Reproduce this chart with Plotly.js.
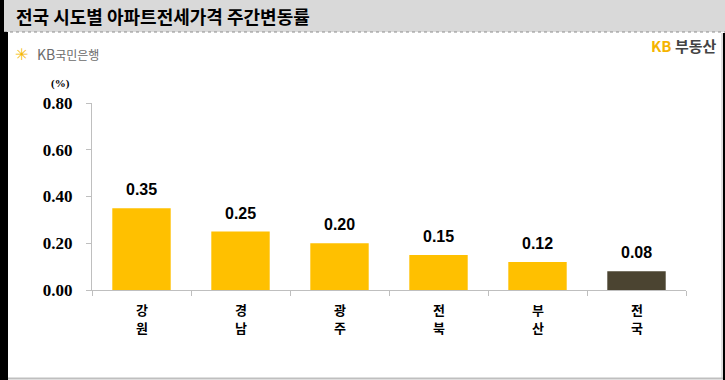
<!DOCTYPE html>
<html>
<head>
<meta charset="utf-8">
<script src="https://cdn.plot.ly/plotly-3.0.1.min.js"></script>
<style>
html,body{margin:0;padding:0;background:#fff;}
#chart{width:725px;height:380px;}
</style>
</head>
<body>
<div id="chart"></div>
<script>
const categories = ['강원', '경남', '광주', '전북', '부산', '전국'];
const values = [0.35, 0.25, 0.20, 0.15, 0.12, 0.08];
const barColors = ['#FFC000', '#FFC000', '#FFC000', '#FFC000', '#FFC000', '#4B4431'];
const yTickVals = [0, 0.2, 0.4, 0.6, 0.8];
const yTickText = ['0.00', '0.20', '0.40', '0.60', '0.80'];
const titleText = '전국 시도별 아파트전세가격 주간변동률';

// plot area geometry in pixels
const L = 92, R = 686, T = 103, B = 290;
const px = x => (x - L) / (R - L);
const py = y => (B - y) / (B - T);

const korFont = '"Noto Sans CJK KR", "Noto Sans", sans-serif';

const trace = {
  type: 'bar',
  x: categories,
  y: values,
  marker: {color: barColors, line: {width: 0}},
  width: 0.59,
  hoverinfo: 'skip'
};

const annotations = categories.map((c, i) => ({
  x: c, y: values[i], xref: 'x', yref: 'y',
  text: values[i].toFixed(2),
  showarrow: false, yanchor: 'bottom', yshift: 8,
  font: {family: '"Liberation Sans", Arial, sans-serif', size: 16, color: '#000', weight: 'bold'}
}));

// vertical (stacked) category labels, one glyph per line
categories.forEach(c => {
  c.split('').forEach((ch, j) => {
    annotations.push({
      x: c, xref: 'x', yref: 'paper', y: py(309 + j * 18),
      text: ch, showarrow: false, xanchor: 'center', yanchor: 'middle', borderpad: 0,
      font: {family: korFont, size: 13, color: '#000', weight: 'bold'}
    });
  });
});

annotations.push(
  {xref: 'paper', yref: 'paper', x: px(14), y: py(16), xanchor: 'left', yanchor: 'middle',
   text: titleText, showarrow: false,
   font: {family: korFont, size: 18, color: '#000', weight: 'bold'}},
  {xref: 'paper', yref: 'paper', x: px(60), y: py(83), xanchor: 'center', yanchor: 'middle',
   text: '(%)', showarrow: false,
   font: {family: '"Liberation Serif", serif', size: 11, color: '#000', weight: 'bold'}},
  {xref: 'paper', yref: 'paper', x: px(13), y: py(54), xanchor: 'left', yanchor: 'middle',
   text: '✳', showarrow: false,
   font: {family: '"DejaVu Sans", sans-serif', size: 16, color: '#F5B800'}},
  {xref: 'paper', yref: 'paper', x: px(35), y: py(54), xanchor: 'left', yanchor: 'middle',
   text: 'KB<span style="font-size:12px">국민은행</span>', showarrow: false,
   font: {family: korFont, size: 14, color: '#6b6b6b'}},
  {xref: 'paper', yref: 'paper', x: px(719), y: py(46), xanchor: 'right', yanchor: 'middle',
   text: '<span style="color:#F5B400">KB</span> 부동산', showarrow: false,
   font: {family: korFont, size: 15, color: '#444444', weight: 'bold'}}
);

const shapes = [
  // title bar
  {type: 'rect', xref: 'paper', yref: 'paper', x0: px(0), x1: px(725), y0: py(0), y1: py(32),
   fillcolor: '#D9D9D9', line: {width: 0}, layer: 'below'},
  {type: 'line', xref: 'paper', yref: 'paper', x0: px(4), x1: px(725), y0: py(32), y1: py(32),
   line: {color: '#8c8c8c', width: 1, dash: 'dot'}},
  // left black strip
  {type: 'rect', xref: 'paper', yref: 'paper', x0: px(0), x1: px(4), y0: py(0), y1: py(32),
   fillcolor: '#000', line: {width: 0}},
  {type: 'rect', xref: 'paper', yref: 'paper', x0: px(0), x1: px(8), y0: py(32), y1: py(380),
   fillcolor: '#000', line: {width: 0}},
  // right border
  {type: 'line', xref: 'paper', yref: 'paper', x0: px(722), x1: px(722), y0: py(33), y1: py(379),
   line: {color: '#bfbfbf', width: 1}},
  {type: 'rect', xref: 'paper', yref: 'paper', x0: px(723), x1: px(725), y0: py(33), y1: py(380),
   fillcolor: '#000', line: {width: 0}},
  // bottom border
  {type: 'line', xref: 'paper', yref: 'paper', x0: px(8), x1: px(723), y0: py(378.5), y1: py(378.5),
   line: {color: '#bfbfbf', width: 2}}
];

const layout = {
  width: 725, height: 380,
  margin: {l: L, r: 725 - R, t: T, b: 380 - B, pad: 0},
  paper_bgcolor: '#ffffff', plot_bgcolor: '#ffffff',
  showlegend: false,
  xaxis: {
    type: 'category',
    showticklabels: false,
    tickson: 'boundaries',
    ticks: 'outside', ticklen: 5, tickcolor: '#bfbfbf', tickwidth: 1,
    showline: true, linecolor: '#bfbfbf', linewidth: 1,
    showgrid: false, zeroline: false,
    fixedrange: true
  },
  yaxis: {
    range: [0, 0.8],
    tickmode: 'array', tickvals: yTickVals, ticktext: yTickText,
    ticks: 'outside', ticklen: 5, tickcolor: '#bfbfbf', tickwidth: 1,
    ticklabelstandoff: 10,
    showline: true, linecolor: '#bfbfbf', linewidth: 1,
    showgrid: false, zeroline: false,
    tickfont: {family: '"Liberation Serif", "Times New Roman", serif', size: 17, color: '#000', weight: 'bold'},
    fixedrange: true
  },
  shapes: shapes,
  annotations: annotations
};

Plotly.newPlot('chart', [trace], layout, {displayModeBar: false, staticPlot: true});
</script>
</body>
</html>
